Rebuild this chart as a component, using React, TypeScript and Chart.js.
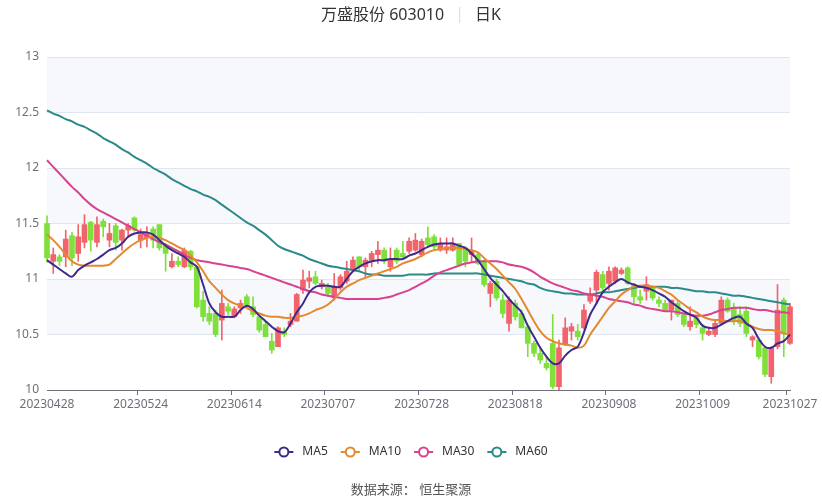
import React, { useEffect, useRef } from "react";
import { Chart, registerables } from "chart.js";
Chart.register(...registerables);

const dates = [
  "20230428",
  "20230504","20230505","20230508","20230509","20230510","20230511","20230512","20230515","20230516","20230517","20230518","20230519","20230522","20230523","20230524","20230525","20230526","20230529","20230530","20230531",
  "20230601","20230602","20230605","20230606","20230607","20230608","20230609","20230612","20230613","20230614","20230615","20230616","20230619","20230620","20230621","20230626","20230627","20230628","20230629","20230630",
  "20230703","20230704","20230705","20230706","20230707","20230710","20230711","20230712","20230713","20230714","20230717","20230718","20230719","20230720","20230721","20230724","20230725","20230726","20230727","20230728","20230731",
  "20230801","20230802","20230803","20230804","20230807","20230808","20230809","20230810","20230811","20230814","20230815","20230816","20230817","20230818","20230821","20230822","20230823","20230824","20230825","20230828","20230829","20230830","20230831",
  "20230901","20230904","20230905","20230906","20230907","20230908","20230911","20230912","20230913","20230914","20230915","20230918","20230919","20230920","20230921","20230922","20230925","20230926","20230927","20230928",
  "20231009","20231010","20231011","20231012","20231013","20231016","20231017","20231018","20231019","20231020","20231023","20231024","20231025","20231026","20231027",
];

const opens = [
  11.50,11.16,11.20,11.20,11.39,11.23,11.33,11.51,11.33,11.52,11.35,11.48,11.35,11.44,11.55,
  11.35,11.37,11.45,11.49,11.31,11.11,11.16,11.11,11.25,11.11,10.81,10.69,10.69,10.63,10.75,
  10.66,10.74,10.84,10.75,10.66,10.59,10.44,10.39,10.53,10.59,10.62,10.90,10.98,11.02,10.93,
  10.94,10.83,10.92,10.98,11.08,11.20,11.11,11.17,11.22,11.26,11.11,11.26,11.23,11.25,11.26,
  11.22,11.37,11.38,11.26,11.26,11.26,11.32,11.28,11.22,11.22,11.15,10.87,10.98,10.81,10.60,
  10.78,10.69,10.57,10.42,10.33,10.24,10.42,10.03,10.41,10.53,10.53,10.56,10.80,10.90,11.04,
  10.96,10.98,11.05,11.10,10.95,10.84,10.89,10.92,10.81,10.78,10.72,10.78,10.68,10.57,10.65,
  10.56,10.50,10.50,10.60,10.81,10.74,10.68,10.71,10.45,10.45,10.38,10.12,10.39,10.81,10.42,
];
const highs = [
  11.57,11.28,11.22,11.44,11.42,11.49,11.58,11.52,11.56,11.54,11.50,11.50,11.45,11.50,11.56,
  11.45,11.47,11.47,11.49,11.32,11.23,11.20,11.28,11.26,11.11,10.89,10.75,10.72,10.90,10.78,
  10.75,10.81,10.86,10.84,10.68,10.62,10.51,10.57,10.56,10.69,10.87,11.08,11.07,11.07,10.99,
  10.96,11.05,11.04,11.16,11.20,11.20,11.19,11.25,11.34,11.28,11.28,11.28,11.34,11.37,11.41,
  11.36,11.47,11.40,11.37,11.37,11.37,11.32,11.29,11.37,11.23,11.17,10.98,11.00,10.86,10.84,
  10.81,10.72,10.59,10.44,10.38,10.30,10.68,10.45,10.65,10.60,10.59,10.77,10.92,11.08,11.07,
  11.11,11.11,11.10,11.11,10.96,10.90,11.02,10.93,10.84,10.81,10.81,10.80,10.69,10.75,10.66,
  10.59,10.56,10.62,10.84,10.83,10.78,10.75,10.75,10.49,10.47,10.39,10.39,10.95,10.83,10.78,
];
const lows = [
  11.15,11.05,11.12,11.11,11.12,11.16,11.28,11.25,11.29,11.38,11.29,11.26,11.26,11.38,11.43,
  11.28,11.29,11.28,11.26,11.07,11.10,11.11,11.10,11.08,10.74,10.62,10.59,10.48,10.45,10.68,
  10.65,10.69,10.75,10.66,10.52,10.48,10.33,10.39,10.48,10.57,10.62,10.87,10.92,10.95,10.91,
  10.84,10.81,10.90,10.96,11.07,11.08,11.01,11.11,11.14,11.14,11.07,11.14,11.19,11.23,11.25,
  11.20,11.29,11.26,11.25,11.23,11.25,11.13,11.11,11.16,11.13,10.93,10.75,10.81,10.65,10.53,
  10.63,10.56,10.30,10.30,10.24,10.18,10.01,10.00,10.40,10.45,10.45,10.55,10.78,10.78,10.89,
  10.90,10.96,11.04,10.95,10.78,10.78,10.81,10.81,10.75,10.71,10.63,10.66,10.57,10.54,10.56,
  10.45,10.49,10.48,10.59,10.70,10.59,10.57,10.48,10.39,10.28,10.12,10.06,10.37,10.30,10.41,
];
const closes = [
  11.19,11.22,11.16,11.36,11.19,11.38,11.49,11.35,11.49,11.47,11.41,11.33,11.44,11.48,11.44,
  11.40,11.41,11.35,11.28,11.23,11.16,11.13,11.26,11.11,10.75,10.66,10.62,10.50,10.78,10.71,
  10.73,10.78,10.77,10.68,10.54,10.48,10.36,10.56,10.50,10.62,10.86,10.99,11.01,10.96,10.96,
  10.87,10.93,11.02,11.07,11.17,11.11,11.17,11.23,11.26,11.16,11.17,11.16,11.20,11.34,11.35,
  11.34,11.31,11.29,11.31,11.29,11.31,11.13,11.16,11.25,11.14,10.95,10.96,10.83,10.69,10.81,
  10.66,10.56,10.42,10.33,10.27,10.20,10.03,10.38,10.56,10.57,10.48,10.72,10.86,11.06,10.92,
  11.07,11.10,11.08,10.96,10.84,10.81,10.95,10.83,10.78,10.72,10.81,10.68,10.59,10.62,10.59,
  10.51,10.53,10.60,10.81,10.71,10.62,10.60,10.51,10.48,10.30,10.14,10.38,10.72,10.51,10.75,
];

const ma5 = [
  11.17,11.13,11.09,11.05,11.02,11.08,11.12,11.15,11.18,11.22,11.26,11.28,11.32,11.38,11.41,
  11.42,11.42,11.40,11.35,11.30,11.26,11.23,11.20,11.15,11.11,10.95,10.78,10.70,10.66,10.66,
  10.66,10.72,10.76,10.73,10.67,10.62,10.57,10.53,10.52,10.60,10.70,10.78,10.88,10.93,10.94,
  10.94,10.93,10.93,11.00,11.07,11.11,11.14,11.16,11.17,11.17,11.18,11.18,11.18,11.21,11.23,
  11.26,11.29,11.31,11.32,11.32,11.32,11.30,11.28,11.23,11.17,11.09,11.01,10.95,10.89,10.82,
  10.76,10.70,10.58,10.48,10.38,10.30,10.24,10.24,10.31,10.36,10.39,10.52,10.68,10.78,10.88,
  10.93,10.97,11.00,10.97,10.95,10.93,10.92,10.90,10.87,10.84,10.79,10.75,10.71,10.68,10.65,
  10.58,10.56,10.56,10.59,10.62,10.65,10.66,10.60,10.56,10.46,10.39,10.38,10.42,10.44,10.50,
];
const ma10 = [
  11.40,11.35,11.29,11.22,11.16,11.13,11.12,11.12,11.12,11.12,11.13,11.18,11.23,11.28,11.32,
  11.35,11.37,11.38,11.37,11.35,11.32,11.29,11.26,11.21,11.15,11.07,10.98,10.92,10.86,10.81,
  10.78,10.76,10.74,10.71,10.69,10.67,10.66,10.66,10.65,10.65,10.66,10.67,10.69,10.72,10.74,
  10.77,10.82,10.88,10.93,10.96,10.99,11.01,11.03,11.05,11.07,11.09,11.11,11.14,11.16,11.18,
  11.21,11.24,11.26,11.27,11.28,11.28,11.28,11.27,11.26,11.24,11.19,11.14,11.09,11.03,10.97,
  10.91,10.82,10.72,10.62,10.53,10.47,10.44,10.42,10.41,10.40,10.38,10.40,10.50,10.58,10.66,
  10.74,10.80,10.86,10.90,10.93,10.94,10.94,10.93,10.92,10.89,10.86,10.81,10.77,10.73,10.70,
  10.66,10.64,10.63,10.63,10.62,10.62,10.62,10.60,10.57,10.55,10.54,10.54,10.53,10.51,10.50,
];
const ma30 = [
  12.07,12.01,11.95,11.89,11.83,11.78,11.72,11.67,11.63,11.60,11.57,11.54,11.51,11.48,11.45,
  11.42,11.39,11.36,11.33,11.31,11.28,11.25,11.22,11.19,11.17,11.16,11.15,11.14,11.13,11.12,
  11.11,11.10,11.09,11.07,11.05,11.03,11.01,10.99,10.97,10.95,10.93,10.91,10.89,10.88,10.86,
  10.85,10.84,10.83,10.82,10.82,10.82,10.82,10.82,10.82,10.83,10.84,10.86,10.88,10.90,10.93,
  10.96,10.99,11.03,11.06,11.08,11.10,11.12,11.14,11.15,11.16,11.16,11.16,11.16,11.15,11.13,
  11.12,11.11,11.09,11.06,11.02,10.99,10.96,10.94,10.92,10.90,10.89,10.87,10.86,10.85,10.84,
  10.82,10.81,10.80,10.79,10.77,10.76,10.74,10.73,10.72,10.71,10.71,10.70,10.69,10.68,10.67,
  10.67,10.68,10.70,10.72,10.73,10.74,10.74,10.74,10.73,10.72,10.72,10.71,10.70,10.70,10.69,
];
const ma60 = [
  12.52,12.49,12.47,12.44,12.42,12.39,12.37,12.34,12.31,12.27,12.24,12.21,12.17,12.14,12.10,
  12.07,12.04,12.00,11.97,11.94,11.90,11.87,11.84,11.81,11.79,11.76,11.74,11.71,11.67,11.63,
  11.59,11.55,11.51,11.48,11.44,11.40,11.35,11.30,11.27,11.25,11.23,11.21,11.18,11.16,11.14,
  11.12,11.11,11.10,11.09,11.08,11.07,11.05,11.04,11.04,11.03,11.03,11.03,11.03,11.04,11.04,
  11.04,11.04,11.05,11.05,11.05,11.05,11.05,11.05,11.05,11.05,11.04,11.03,11.02,11.01,11.00,
  10.99,10.98,10.96,10.95,10.92,10.90,10.89,10.88,10.87,10.87,10.86,10.86,10.86,10.87,10.88,
  10.88,10.89,10.90,10.91,10.92,10.93,10.93,10.93,10.93,10.93,10.92,10.92,10.91,10.90,10.89,
  10.89,10.88,10.88,10.87,10.86,10.85,10.85,10.84,10.83,10.82,10.81,10.80,10.79,10.78,10.77,
];

const yTicks = [10, 10.5, 11, 11.5, 12, 12.5, 13];

const UP = "#f2646c";
const DOWN = "#7fe03c";
const MA_COLORS = ["#3f2a8c", "#e3892f", "#d8428f", "#2b8a8a"];
const MA_NAMES = ["MA5", "MA10", "MA30", "MA60"];
const FONT = '"Noto Sans", "Noto Sans CJK SC", sans-serif';

const isLabelIdx = (i: number) => i % 15 === 0 || i === dates.length - 1;

const decor = {
  id: "decor",
  beforeDraw(chart: any) {
    const { ctx, chartArea } = chart;
    const y = chart.scales.y;
    ctx.save();
    ctx.fillStyle = "rgba(210,219,238,0.2)";
    for (let k = 1; k < yTicks.length - 1 + 1; k += 2) {
      const lo = yTicks[k];
      const hi = yTicks[k + 1];
      if (hi === undefined) break;
      const top = y.getPixelForValue(hi);
      const bot = y.getPixelForValue(lo);
      ctx.fillRect(chartArea.left, top, chartArea.right - chartArea.left, bot - top);
    }
    ctx.restore();
  },
  afterDraw(chart: any) {
    const { ctx } = chart;
    ctx.save();
    // Title
    ctx.textBaseline = "middle";
    ctx.font = `16px ${FONT}`;
    const main = "万盛股份 603010";
    const sub = "日K";
    const wMain = ctx.measureText(main).width;
    const wSub = ctx.measureText(sub).width;
    const gap = 15;
    const total = wMain + gap + 1 + gap + wSub;
    let x = 411 - total / 2;
    ctx.fillStyle = "#333";
    ctx.textAlign = "left";
    ctx.fillText(main, x, 15);
    x += wMain + gap;
    ctx.fillStyle = "#ddd";
    ctx.fillRect(x, 7, 1, 16);
    x += 1 + gap;
    ctx.fillStyle = "#333";
    ctx.fillText(sub, x, 15);

    // Legend
    ctx.font = `12px ${FONT}`;
    const iconW = 19, textGap = 9, itemGap = 13;
    const widths = MA_NAMES.map((n) => ctx.measureText(n).width);
    const tot = widths.reduce((a, b) => a + b, 0) + MA_NAMES.length * (iconW + textGap) + (MA_NAMES.length - 1) * itemGap;
    let lx = 411 - tot / 2;
    const ly = 452;
    MA_NAMES.forEach((n, i) => {
      ctx.strokeStyle = MA_COLORS[i];
      ctx.lineWidth = 2;
      ctx.beginPath();
      ctx.moveTo(lx, ly);
      ctx.lineTo(lx + iconW, ly);
      ctx.stroke();
      ctx.beginPath();
      ctx.arc(lx + iconW / 2, ly, 4.5, 0, Math.PI * 2);
      ctx.fillStyle = "#fff";
      ctx.fill();
      ctx.stroke();
      ctx.fillStyle = "#333";
      ctx.textAlign = "left";
      ctx.fillText(n, lx + iconW + textGap, ly);
      lx += iconW + textGap + widths[i] + itemGap;
    });

    // Footer
    ctx.font = `13px ${FONT}`;
    ctx.fillStyle = "#555";
    ctx.textAlign = "center";
    ctx.fillText("数据来源： 恒生聚源", 411, 490);
    ctx.restore();
  },
};

export default function App() {
  const ref = useRef<HTMLCanvasElement | null>(null);
  useEffect(() => {
    document.body.style.margin = "0";
    const canvas = ref.current!;
    const colors = opens.map((o, i) => (closes[i] >= o ? UP : DOWN));
    const chart = new Chart(canvas, {
      type: "bar",
      data: {
        labels: dates,
        datasets: [
          ...[ma5, ma10, ma30, ma60].map((d, i) => ({
            type: "line" as const,
            label: MA_NAMES[i],
            data: d,
            borderColor: MA_COLORS[i],
            backgroundColor: MA_COLORS[i],
            borderWidth: 2,
            pointRadius: 0,
            tension: 0.35,
            order: 0,
            clip: false as any,
          })),
          {
            type: "bar" as const,
            label: "body",
            data: opens.map((o, i) => [Math.min(o, closes[i]), Math.max(o, closes[i])]) as any,
            backgroundColor: colors,
            borderWidth: 0,
            barThickness: 5,
            minBarLength: 1,
            grouped: false,
            order: 1,
            clip: false as any,
          },
          {
            type: "bar" as const,
            label: "wick",
            data: lows.map((l, i) => [l, highs[i]]) as any,
            backgroundColor: colors,
            borderWidth: 0,
            barThickness: 1,
            grouped: false,
            order: 2,
            clip: false as any,
          },
        ],
      },
      options: {
        responsive: false,
        animation: false,
        devicePixelRatio: 1,
        layout: { padding: { top: 57, right: 32, bottom: 80, left: 0 } },
        plugins: {
          legend: { display: false },
          title: { display: false },
          tooltip: { enabled: false },
        },
        scales: {
          x: {
            type: "category",
            offset: false,
            afterFit: (s: any) => { s.height = 30; },
            grid: {
              drawOnChartArea: false,
              drawTicks: true,
              tickLength: 5,
              color: (c: any) => (isLabelIdx(c.index) ? "#6e7079" : "rgba(0,0,0,0)"),
            },
            border: { display: true, color: "#6e7079", width: 1 },
            ticks: {
              autoSkip: false,
              maxRotation: 0,
              minRotation: 0,
              padding: 2,
              color: "#6e7079",
              font: { size: 12, family: FONT },
              callback: (_v: any, i: number) => (isLabelIdx(i) ? dates[i] : ""),
            },
          },
          y: {
            min: 10,
            max: 13,
            afterFit: (s: any) => { s.width = 47; },
            afterBuildTicks: (s: any) => { s.ticks = yTicks.map((v) => ({ value: v })); },
            grid: { color: "#e0e6f1", drawTicks: false },
            border: { display: false },
            ticks: {
              padding: 8,
              color: "#6e7079",
              font: { size: 12, family: FONT },
              callback: (v: any) => String(v),
            },
          },
        },
      },
      plugins: [decor],
    });
    return () => chart.destroy();
  }, []);
  return (
    <div style={{ width: 822, height: 500, background: "#fff" }}>
      <canvas ref={ref} width={822} height={500} style={{ display: "block" }} />
    </div>
  );
}
